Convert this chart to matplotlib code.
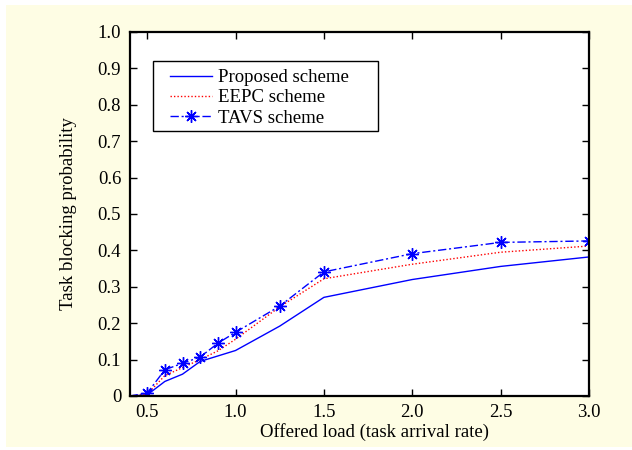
import matplotlib
matplotlib.use("Agg")
import matplotlib.pyplot as plt
from matplotlib.patches import Rectangle
from matplotlib.ticker import FuncFormatter

# Offered load (task arrival rate)
load = [0.4, 0.5, 0.6, 0.7, 0.8, 0.9, 1.0, 1.25, 1.5, 2.0, 2.5, 3.0]

# Task blocking probability per scheme
proposed = [0.0, 0.003, 0.040, 0.060, 0.095, 0.110, 0.125, 0.192, 0.271, 0.320, 0.356, 0.382]
eepc = [0.0, 0.005, 0.056, 0.078, 0.100, 0.124, 0.156, 0.245, 0.322, 0.362, 0.395, 0.412]
tavs = [0.0, 0.008, 0.072, 0.090, 0.107, 0.145, 0.175, 0.247, 0.341, 0.391, 0.422, 0.426]

labels = ["Proposed scheme", "EEPC scheme", "TAVS scheme"]
x_ticks = [0.5, 1.0, 1.5, 2.0, 2.5, 3.0]
y_ticks = [0.0, 0.1, 0.2, 0.3, 0.4, 0.5, 0.6, 0.7, 0.8, 0.9, 1.0]

FS = 13.5
plt.rcParams["font.family"] = ["Liberation Serif", "DejaVu Serif"]
plt.rcParams["font.size"] = FS

W, H = 632, 450
fig = plt.figure(figsize=(W / 100, H / 100), dpi=100)
fig.patch.set_facecolor("white")
# pale panel behind the plot
fig.patches.append(Rectangle((6 / W, 3 / H), 626 / W, 442 / H,
                             transform=fig.transFigure, facecolor="#FEFDE4",
                             edgecolor="none", zorder=-10))

ax = fig.add_axes([129.5 / W, 1 - 396 / H, 459.5 / W, 364 / H])
ax.set_zorder(1)
ax.set_facecolor("white")

ax.plot(load, proposed, color="#0000FF", lw=1.0, ls="-", label=labels[0])
ax.plot(load, eepc, color="#FF0000", lw=1.0, ls=(0, (1, 1.5)), label=labels[1])
ax.plot(load, tavs, color="#0000FF", lw=1.0, ls=(0, (6, 2, 1.5, 2)),
        marker=(8, 2, 0), markersize=9, markeredgewidth=1.0,
        markevery=list(range(1, len(load))), label=labels[2])

ax.set_xlim(0.4, 3.0)
ax.set_ylim(0.0, 1.0)
ax.set_xticks(x_ticks)
ax.set_yticks(y_ticks)
ax.xaxis.set_major_formatter(FuncFormatter(lambda v, p: f"{v:.1f}"))
ax.yaxis.set_major_formatter(FuncFormatter(lambda v, p: "0" if abs(v) < 1e-9 else f"{v:.1f}"))
ax.tick_params(direction="in", top=True, right=True, length=5, width=1.0,
               labelsize=FS, pad=6)
for s in ax.spines.values():
    s.set_linewidth(1.6)

ax.set_xlabel("Offered load (task arrival rate)", fontsize=FS, labelpad=3)
ax.xaxis.set_label_coords(0.533, -0.075)
ax.set_ylabel("Task blocking probability", fontsize=FS, labelpad=15)

# legend frame with a fixed extent, drawn above the curves
ax.add_artist(Rectangle((153 / W, 1 - 131 / H), 225 / W, 70 / H,
                        transform=fig.transFigure, facecolor="white",
                        edgecolor="black", lw=1.0, zorder=4.5))

leg = ax.legend(loc="upper left", bbox_to_anchor=(170 / W, 1 - 69 / H),
                bbox_transform=fig.transFigure, borderaxespad=0,
                frameon=False, handlelength=2.25, handletextpad=0.3,
                labelspacing=0.17, borderpad=0.0, fontsize=FS)
leg.set_zorder(6)

fig.savefig("out.png", dpi=100)
